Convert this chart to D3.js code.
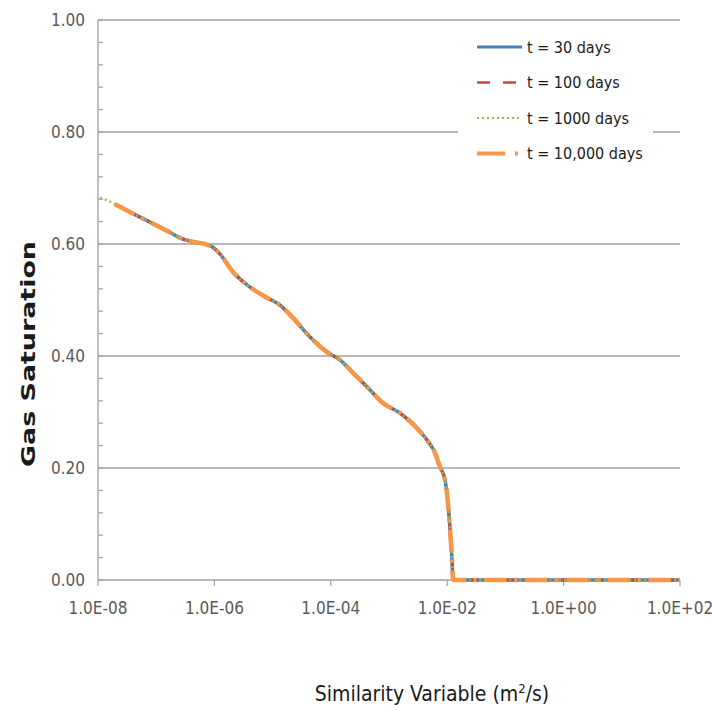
<!DOCTYPE html>
<html>
<head>
<meta charset="utf-8">
<script src="https://cdn.jsdelivr.net/npm/d3@7/dist/d3.min.js"></script>
<style>
  html, body { margin: 0; padding: 0; background: #fff; }
  svg { display: block; }
  .narrow { font-family: 'Liberation Sans Narrow', 'DejaVu Sans Condensed', 'Arial Narrow', sans-serif; }
</style>
</head>
<body>
<svg id="chart" width="712" height="715"></svg>
<script>
// Similarity variable (m^2/s) and gas saturation profile
const similarity = [
  1.08e-8, 1.37e-8, 1.96e-8, 3.55e-8, 7.82e-8, 1.72e-7, 2.56e-7, 4.29e-7,
  6.89e-7, 9.10e-7, 1.25e-6, 2.09e-6, 4.09e-6, 8.02e-6, 1.34e-5, 2.24e-5,
  4.40e-5, 8.61e-5, 1.44e-4, 2.40e-4, 4.19e-4, 7.89e-4, 1.55e-3, 3.03e-3,
  4.50e-3, 6.17e-3, 7.52e-3, 9.16e-3, 1.03e-2, 1.12e-2, 1.21e-2, 1.26e-2,
  2.47e-2, 1.0e-1, 1.0e0, 1.0e1, 1.0e2
];
const saturation = [
  0.682, 0.679, 0.671, 0.657, 0.639, 0.621, 0.611, 0.604,
  0.600, 0.595, 0.582, 0.550, 0.523, 0.504, 0.491, 0.468,
  0.434, 0.407, 0.393, 0.370, 0.345, 0.316, 0.298, 0.271,
  0.250, 0.227, 0.202, 0.179, 0.138, 0.089, 0.036, 0.000,
  0.000, 0.000, 0.000, 0.000, 0.000
];

// Series: name, first similarity value each run reaches
const seriesNames = ["t = 30 days", "t = 100 days", "t = 1000 days", "t = 10,000 days"];
const seriesStart = [1.96e-8, 1.96e-8, 1.08e-8, 1.96e-8];
const seriesColors = ["#4a7ebb", "#be4b48", "#98b954", "#f79646"];
const seriesWidths = [3.5, 3, 2.5, 4.5];
const seriesDash = [null, "10,8", "2,3", "22,8,3,8"];

const xTicks = [1e-8, 1e-6, 1e-4, 1e-2, 1e0, 1e2];
const yTicks = [0, 0.2, 0.4, 0.6, 0.8, 1.0];
const yMinorTicks = d3.range(0, 1.0001, 0.04);

const svg = d3.select("#chart");
const x = d3.scaleLog().domain([1e-8, 1e2]).range([98, 680]);
const y = d3.scaleLinear().domain([0, 1]).range([580, 20]);

const sciFmt = d => {
  const e = Math.round(Math.log10(d));
  return "1.0E" + (e < 0 ? "-" : "+") + String(Math.abs(e)).padStart(2, "0");
};

// horizontal gridlines
svg.append("g").selectAll("line").data(yTicks).join("line")
  .attr("x1", 98).attr("x2", 680)
  .attr("y1", d => y(d)).attr("y2", d => y(d))
  .attr("stroke", "#a0a0a0").attr("stroke-width", 1.3);

// y axis line, minor ticks
svg.append("line").attr("x1", 98).attr("x2", 98).attr("y1", 20).attr("y2", 580)
  .attr("stroke", "#a0a0a0").attr("stroke-width", 1.3);
svg.append("g").selectAll("line").data(yMinorTicks).join("line")
  .attr("x1", 98).attr("x2", 103)
  .attr("y1", d => y(d)).attr("y2", d => y(d))
  .attr("stroke", "#a0a0a0").attr("stroke-width", 1.2);

// x axis ticks
svg.append("g").selectAll("line").data(xTicks).join("line")
  .attr("x1", d => x(d)).attr("x2", d => x(d))
  .attr("y1", 580).attr("y2", 586)
  .attr("stroke", "#a0a0a0").attr("stroke-width", 1.2);

// tick labels
svg.append("g").attr("class", "narrow").selectAll("text").data(yTicks).join("text")
  .attr("x", 85).attr("y", d => y(d)).attr("dy", "0.35em")
  .attr("text-anchor", "end").attr("font-size", 17).attr("fill", "#595959")
  .text(d => d.toFixed(2));
svg.append("g").attr("class", "narrow").selectAll("text").data(xTicks).join("text")
  .attr("x", d => x(d)).attr("y", 614)
  .attr("text-anchor", "middle").attr("font-size", 17).attr("fill", "#595959")
  .text(sciFmt);

// axis titles
svg.append("text")
  .attr("transform", "translate(35,354) rotate(-90)")
  .attr("text-anchor", "middle")
  .attr("font-family", "'DejaVu Sans', Verdana, sans-serif")
  .attr("font-weight", "bold").attr("font-size", 19).attr("fill", "#1a1a1a")
  .attr("textLength", 226).attr("lengthAdjust", "spacingAndGlyphs")
  .text("Gas Saturation");

const xt = svg.append("text").attr("class", "narrow")
  .attr("x", 432).attr("y", 701).attr("text-anchor", "middle")
  .attr("font-size", 21).attr("fill", "#1a1a1a");
xt.append("tspan").text("Similarity Variable (m");
xt.append("tspan").attr("font-size", 13).attr("dy", -8).text("2");
xt.append("tspan").attr("dy", 8).text("/s)");

// data lines
const pts = similarity.map((s, i) => [s, saturation[i]]);
const line = d3.line().x(d => x(d[0])).y(d => y(d[1])).curve(d3.curveMonotoneX);
seriesNames.forEach((name, i) => {
  const data = pts.filter(p => p[0] >= seriesStart[i]);
  svg.append("path").datum(data)
    .attr("d", line)
    .attr("fill", "none")
    .attr("stroke", seriesColors[i])
    .attr("stroke-width", seriesWidths[i])
    .attr("stroke-dasharray", seriesDash[i])
    .attr("stroke-linejoin", "round");
});

// legend
const lg = svg.append("g");
lg.append("rect").attr("x", 458).attr("y", 28).attr("width", 195).attr("height", 150).attr("fill", "#fff");
const legendDash = [null, "13,13", "2,3", "28,10,3,10"];
seriesNames.forEach((name, i) => {
  const ly = 47 + i * 35.5;
  lg.append("line").attr("x1", 477).attr("x2", 522).attr("y1", ly).attr("y2", ly)
    .attr("stroke", seriesColors[i]).attr("stroke-width", seriesWidths[i] - 0.5)
    .attr("stroke-dasharray", legendDash[i]);
  lg.append("text").attr("class", "narrow")
    .attr("x", 527).attr("y", ly).attr("dy", "0.35em")
    .attr("font-size", 16).attr("fill", "#1a1a1a")
    .text(name);
});
</script>
</body>
</html>
